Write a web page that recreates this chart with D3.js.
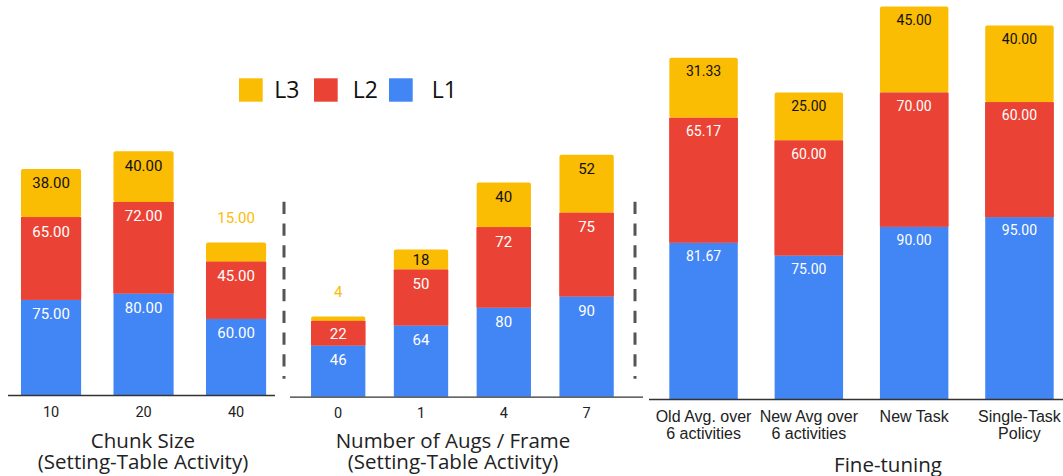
<!DOCTYPE html>
<html>
<head>
<meta charset="utf-8">
<script src="https://cdn.jsdelivr.net/npm/d3@7"></script>
<style>
  html, body { margin: 0; padding: 0; background: #fff; }
  svg { display: block; }
</style>
</head>
<body>
<svg id="chart" width="1063" height="476"></svg>
<script>
// ---------------- DATA ----------------
const seriesNames = ["L1", "L2", "L3"];
const seriesColors = ["#4285F4", "#EA4335", "#FBBC04"];

const chunkCats = ["10", "20", "40"];
const chunkL1 = [75, 80, 60];
const chunkL2 = [65, 72, 45];
const chunkL3 = [38, 40, 15];

const augCats = ["0", "1", "4", "7"];
const augL1 = [46, 64, 80, 90];
const augL2 = [22, 50, 72, 75];
const augL3 = [4, 18, 40, 52];

const ftCats = ["Old Avg. over\n6 activities", "New Avg over\n6 activities", "New Task", "Single-Task\nPolicy"];
const ftL1 = [81.67, 75, 90, 95];
const ftL2 = [65.17, 60, 70, 60];
const ftL3 = [31.33, 25, 45, 40];

const legendOrder = ["L3", "L2", "L1"];

// ---------------- DRAW ----------------
const svg = d3.select("#chart");

function panel(cfg) {
  const rows = cfg.cats.map((c, i) => ({ cat: c, L1: cfg.s[0][i], L2: cfg.s[1][i], L3: cfg.s[2][i] }));
  const stack = d3.stack().keys(seriesNames)(rows);
  const x = d3.scaleBand().domain(cfg.cats).range(cfg.xr).paddingInner(cfg.pi).paddingOuter(cfg.pi / 2);
  const y = d3.scaleLinear().domain([0, 200]).range([cfg.base, cfg.base - 200 * cfg.ppu]);
  const g = svg.append("g");

  stack.forEach((layer, si) => {
    const isTop = si === 2;
    g.selectAll(null).data(layer).enter().append("rect")
      .attr("x", d => x(d.data.cat))
      .attr("width", x.bandwidth())
      .attr("y", d => y(d[1]))
      .attr("height", d => y(d[0]) - y(d[1]))
      .attr("rx", isTop ? 2 : 0)
      .attr("fill", seriesColors[si]);
  });
  // redraw middle segment to square off the rounded bottom of the top segment
  g.selectAll(null).data(stack[1]).enter().append("rect")
    .attr("x", d => x(d.data.cat))
    .attr("width", x.bandwidth())
    .attr("y", d => y(d[1]))
    .attr("height", d => y(d[0]) - y(d[1]))
    .attr("fill", seriesColors[1]);

  // value labels
  stack.forEach((layer, si) => {
    layer.forEach(d => {
      const top = y(d[1]);
      const h = y(d[0]) - y(d[1]);
      const v = d[1] - d[0];
      let cy, fill;
      if (h < 19.5) {
        cy = top - 24.7;
        fill = seriesColors[si];
      } else {
        cy = top + Math.min(cfg.lblOff, h / 2);
        fill = si === 2 ? "#111" : "#fff";
      }
      g.append("text")
        .attr("x", x(d.data.cat) + x.bandwidth() / 2)
        .attr("y", cy + cfg.lblFs * 0.36)
        .attr("text-anchor", "middle")
        .attr("font-family", "Roboto, sans-serif")
        .attr("font-size", cfg.lblFs)
        .attr("fill", fill)
        .text(cfg.fmt(v));
    });
  });

  // baseline
  g.append("line")
    .attr("x1", cfg.axisX[0]).attr("x2", cfg.axisX[1])
    .attr("y1", cfg.base + 0.5).attr("y2", cfg.base + 0.5)
    .attr("stroke", "#333").attr("stroke-width", 1.3);

  // tick labels via axis
  const ax = g.append("g")
    .attr("transform", `translate(0,${cfg.base})`)
    .call(d3.axisBottom(x).tickSize(0).tickPadding(0));
  ax.select(".domain").remove();
  ax.selectAll(".tick text").each(function (d) {
    const t = d3.select(this);
    t.text(null).attr("dy", null).attr("y", 0)
      .attr("font-family", cfg.tickFont)
      .attr("font-size", cfg.tickFs)
      .attr("fill", "#222");
    d.split("\n").forEach((ln, i) => {
      t.append("tspan").attr("x", 0).attr("y", cfg.tickY + i * cfg.tickLh).text(ln);
    });
  });

  // axis title
  cfg.title.forEach((ln, i) => {
    g.append("text")
      .attr("x", cfg.titleX)
      .attr("y", cfg.titleY + i * 21)
      .attr("text-anchor", "middle")
      .attr("font-family", "'Open Sans', sans-serif")
      .attr("font-size", 20.5)
      .attr("fill", "#222")
      .text(ln);
  });
}

panel({
  cats: chunkCats, s: [chunkL1, chunkL2, chunkL3],
  xr: [4.8, 282.3], pi: 0.35, base: 395, ppu: 1.27,
  fmt: v => v.toFixed(2), lblFs: 15, lblOff: 14,
  axisX: [8, 275], tickFont: "Roboto, sans-serif", tickFs: 14.5, tickY: 21.8, tickLh: 16.7,
  title: ["Chunk Size", "(Setting-Table Activity)"], titleX: 143, titleY: 448
});

panel({
  cats: augCats, s: [augL1, augL2, augL3],
  xr: [296.8, 628], pi: 0.344, base: 396.7, ppu: 1.115,
  fmt: v => d3.format("d")(Math.round(v)), lblFs: 15, lblOff: 14,
  axisX: [290, 643], tickFont: "Roboto, sans-serif", tickFs: 14.5, tickY: 21.8, tickLh: 16.7,
  title: ["Number of Augs / Frame", "(Setting-Table Activity)"], titleX: 453, titleY: 447.5
});

panel({
  cats: ftCats, s: [ftL1, ftL2, ftL3],
  xr: [650.9, 1072.1], pi: 0.35, base: 399, ppu: 1.915,
  fmt: v => v.toFixed(2), lblFs: 14, lblOff: 13.2,
  axisX: [649, 1063], tickFont: "'Liberation Sans', Arial, sans-serif", tickFs: 16, tickY: 23.4, tickLh: 16.7,
  title: ["Fine-tuning"], titleX: 888, titleY: 471.5
});

// dashed separators
[284, 635].forEach(xx => {
  svg.append("line")
    .attr("x1", xx).attr("x2", xx)
    .attr("y1", 201.7).attr("y2", 378.7)
    .attr("stroke", "#555").attr("stroke-width", 3)
    .attr("stroke-dasharray", "12.3 9.5");
});

// legend
const legSq = [239, 314, 389];
const legTx = [274.3, 352.7, 431.7];
legendOrder.forEach((name, i) => {
  const si = seriesNames.indexOf(name);
  svg.append("rect")
    .attr("x", legSq[i]).attr("y", 78.3)
    .attr("width", 23.7).attr("height", 23.4)
    .attr("fill", seriesColors[si]);
  svg.append("text")
    .attr("x", legTx[i]).attr("y", 97.5)
    .attr("font-family", "'Open Sans', sans-serif")
    .attr("font-size", 23)
    .attr("fill", "#111")
    .text(name);
});
</script>
</body>
</html>
